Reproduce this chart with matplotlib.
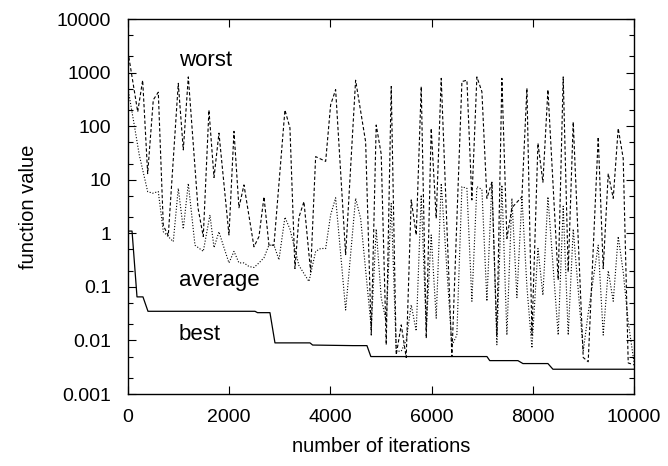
import matplotlib
matplotlib.use("Agg")
import matplotlib.pyplot as plt
from matplotlib.ticker import LogLocator, NullFormatter, FixedLocator, FixedFormatter

plt.rcParams["font.family"] = ["Liberation Sans", "DejaVu Sans"]

# best-so-far function value (step curve)
best_iter = [0, 80, 178, 296, 395, 2510, 2560, 2806, 2905, 3597, 3650, 4447, 4723,
             4800, 7095, 7150, 7707, 7806, 8300, 8399, 10000]
best_val = [1.1, 1.1, 0.065, 0.065, 0.035, 0.035, 0.033, 0.033, 0.009, 0.009, 0.0082,
            0.008, 0.008, 0.005, 0.005, 0.0042, 0.0042, 0.0037, 0.0037, 0.0029, 0.0029]

# worst function value in the population
worst_iter = [0, 192, 290, 389, 500, 599, 698, 796, 994, 1093, 1192, 1383, 1488, 1600,
              1700, 1798, 1996, 2095, 2193, 2292, 2490, 2589, 2688, 2786, 2885, 3102,
              3201, 3300, 3379, 3478, 3610, 3709, 3907, 4005, 4104, 4302, 4499, 4697,
              4808, 4906, 5005, 5104, 5203, 5302, 5401, 5499, 5598, 5697, 5796, 5895,
              5993, 6092, 6191, 6402, 6600, 6699, 6797, 6896, 6995, 7094, 7193, 7291,
              7390, 7489, 7588, 7786, 7885, 7984, 8103, 8201, 8300, 8503, 8602, 8701,
              8800, 8998, 9096, 9294, 9393, 9492, 9591, 9689, 9788, 9887, 10000]
worst_val = [2450, 185, 720, 13, 310, 430, 1.4, 0.9, 630, 36, 830, 3, 0.87, 200,
             11, 74, 0.93, 80, 3, 8, 0.56, 0.87, 4.8, 0.6, 0.6, 200,
             93, 0.22, 2, 3.9, 0.19, 27, 22, 250, 480, 0.4, 720, 51,
             0.0126, 105, 30, 0.0083, 550, 0.0054, 0.0195, 0.0048, 4.2, 0.93, 550, 0.011,
             91, 1.9, 780, 0.005, 680, 720, 4.2, 830, 440, 4.5, 9, 0.0126,
             780, 0.8, 3, 4.8, 510, 0.0126, 48, 9, 480, 0.135, 830, 0.19,
             120, 0.0048, 0.004, 63, 0.22, 13, 4.5, 91, 25, 0.0038, 0.0035]

# average function value in the population
avg_iter = [0, 124, 223, 389, 488, 599, 698, 895, 994, 1093, 1192, 1324, 1488, 1620,
            1700, 1798, 1897, 1996, 2095, 2193, 2292, 2391, 2490, 2589, 2688, 2786,
            2885, 2984, 3102, 3201, 3280, 3379, 3577, 3709, 3808, 3907, 4005, 4104,
            4302, 4499, 4598, 4808, 4906, 5005, 5104, 5203, 5302, 5401, 5499, 5598,
            5697, 5796, 5895, 5993, 6092, 6191, 6402, 6500, 6600, 6699, 6797, 6896,
            6995, 7094, 7193, 7291, 7390, 7489, 7588, 7687, 7786, 7885, 7984, 8103,
            8201, 8300, 8503, 8602, 8701, 8800, 8998, 9096, 9294, 9393, 9492, 9591,
            9689, 9788, 9887, 10000]
avg_val = [500, 105, 29, 6, 5.6, 6, 1.07, 0.7, 6.9, 1.2, 8.5, 0.6, 0.46, 2.2,
           0.54, 1.07, 0.54, 0.28, 0.46, 0.28, 0.28, 0.24, 0.23, 0.28, 0.35, 0.6,
           0.6, 0.32, 2, 1.2, 0.6, 0.25, 0.126, 0.46, 0.52, 0.52, 2.2, 4.6,
           0.037, 4.5, 1.9, 0.017, 1.2, 0.063, 0.022, 3.6, 0.0063, 0.0063, 0.01, 0.046,
           0.015, 5.2, 0.016, 0.93, 0.026, 8.5, 0.008, 0.0126, 7.4, 6.9, 0.054, 7.4,
           6.6, 0.054, 9.1, 0.0083, 7.9, 0.0126, 4.5, 0.063, 4.8, 0.1, 0.0072, 0.52,
           0.07, 4.8, 0.0126, 3.2, 0.0126, 1.2, 0.0063, 0.032, 0.6, 0.0126, 0.2, 0.054,
           0.87, 0.19, 0.022, 0.004]

y_ticks = [0.001, 0.01, 0.1, 1, 10, 100, 1000, 10000]
y_tick_labels = ["0.001", "0.01", "0.1", "1", "10", "100", "1000", "10000"]

fig = plt.figure(figsize=(6.68, 4.66), dpi=100)
ax = fig.add_axes([0.1916, 0.1545, 0.7574, 0.8047])

ax.plot(worst_iter, worst_val, color="black", lw=0.8, dashes=(3, 2))
ax.plot(avg_iter, avg_val, color="black", lw=0.8, dashes=(1, 1.6))
ax.plot(best_iter, best_val, color="black", lw=0.9)

ax.set_yscale("log")
ax.set_xlim(0, 10000)
ax.set_ylim(0.001, 10000)
ax.yaxis.set_major_locator(FixedLocator(y_ticks))
ax.yaxis.set_major_formatter(FixedFormatter(y_tick_labels))
ax.yaxis.set_minor_locator(LogLocator(base=10, subs=(2, 5)))
ax.yaxis.set_minor_formatter(NullFormatter())
ax.set_xticks(range(0, 10001, 2000))

ax.tick_params(which="both", direction="in", top=True, right=True, labelsize=14)
ax.tick_params(axis="x", pad=11)
ax.tick_params(axis="y", pad=12)
ax.tick_params(which="major", length=6, width=0.8)
ax.tick_params(which="minor", length=3.5, width=0.8)
for s in ax.spines.values():
    s.set_linewidth(1.0)

ax.set_xlabel("number of iterations", fontsize=14.5, labelpad=8)
ax.set_ylabel("function value", fontsize=14.5, labelpad=14)

# curve labels
ax.text(1000, 1700, "worst", fontsize=16, va="center")
ax.text(1000, 0.13, "average", fontsize=16, va="center")
ax.text(1000, 0.013, "best", fontsize=16, va="center")

fig.savefig("out.png", dpi=100)
